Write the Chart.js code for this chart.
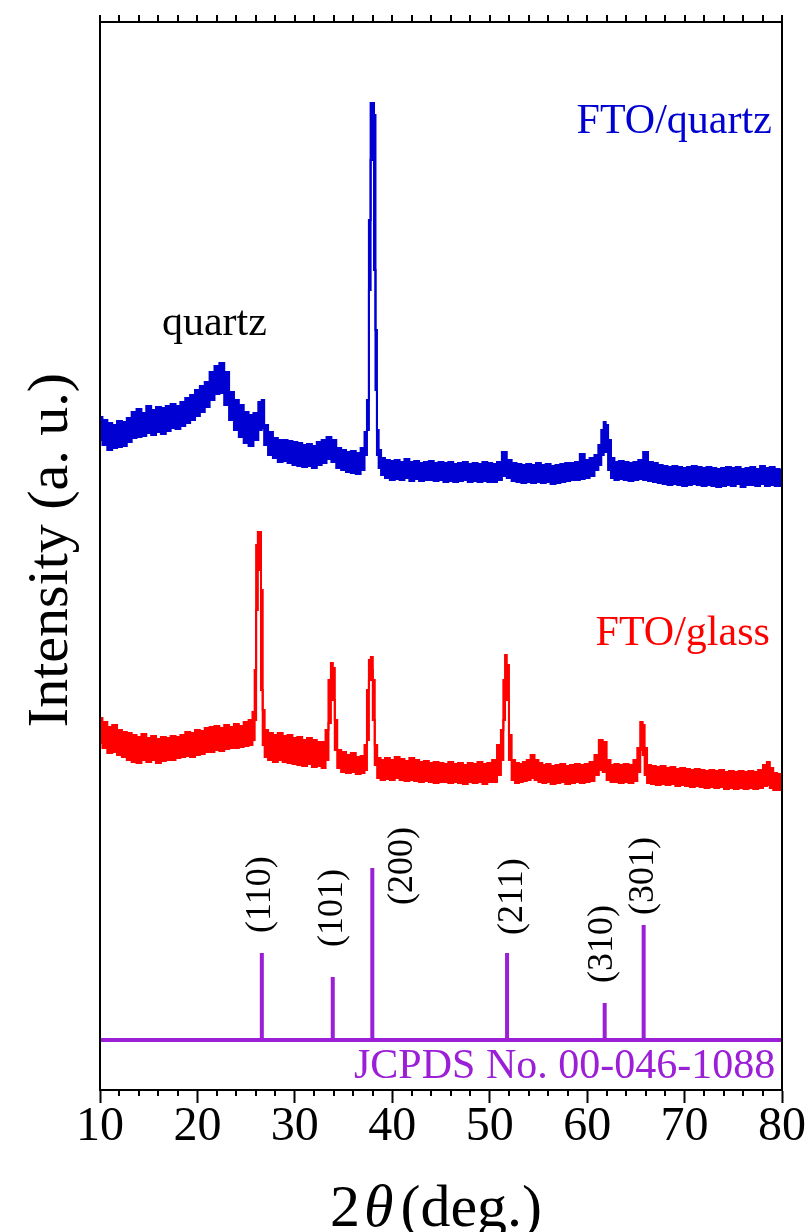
<!DOCTYPE html>
<html><head><meta charset="utf-8">
<script src="https://cdn.jsdelivr.net/npm/chart.js@4.4.1/dist/chart.umd.min.js"></script>
<style>html,body{margin:0;padding:0;background:#fff}#wrap{width:810px;height:1232px}</style>
</head><body><div id="wrap"><canvas id="c" width="810" height="1232"></canvas></div>
<script>
// ---- data (2θ in degrees, intensity in arbitrary units, offset stacked) ----
const quartzTheta = [10,10.5,11,11.5,12,12.5,13,13.5,14,14.5,15,15.5,16,16.5,17,17.5,18,18.5,19,19.5,
  20,20.5,21,21.5,22,22.5,23,23.5,24,24.5,25,25.5,26,26.5,26.7,27,27.5,28,28.5,29,29.5,
  30,30.5,31,31.5,32,32.5,33,33.5,34,34.5,35,35.5,36,36.5,37,37.3,37.5,37.7,37.85,38.05,38.2,38.35,38.5,38.7,
  39,39.5,40,40.5,41,41.5,42,42.5,43,43.5,44,44.5,45,45.5,46,46.5,47,47.5,48,48.5,49,49.5,
  50,50.5,51,51.5,52,52.5,53,53.5,54,54.5,55,55.5,56,56.5,57,57.5,58,58.5,59,59.5,
  60,60.5,61,61.3,61.6,61.8,62,62.3,62.6,63,63.5,64,64.5,65,65.5,66,66.5,67,67.5,68,68.5,69,69.5,
  70,70.5,71,71.5,72,72.5,73,73.5,74,74.5,75,75.5,76,76.5,77,77.5,78,78.5,79,79.5,80];
const quartzUpper = [673,670,667,665,669,668,672,678,681,677,684,680,683,682,684,686,684,688,692,695,
  700,704,708,718,724,727,718,698,690,685,678,675,677,688,690,665,658,652,650,650,649,
  648,647,645,646,644,648,650,653,650,642,640,638,639,637,642,658,690,870,987,987,975,760,660,640,
  632,630,629,630,628,631,628,629,627,628,629,627,628,627,628,626,627,628,626,627,626,628,
  627,626,628,638,630,627,626,625,626,625,627,625,626,624,625,626,627,627,628,636,
  630,632,635,645,660,668,665,650,632,628,629,628,627,628,630,638,628,627,625,624,623,624,623,
  622,623,624,623,622,623,622,621,622,623,622,623,621,622,623,621,624,622,623,621,620];
const quartzLower = [650,645,640,642,643,644,648,652,653,654,657,655,658,656,659,662,661,664,667,670,
  674,678,683,690,696,697,685,670,660,653,647,644,650,660,662,645,635,632,628,629,627,
  625,624,623,624,622,625,627,631,628,622,620,618,617,616,620,635,660,800,930,960,820,700,635,622,
  615,612,610,611,610,612,609,611,609,610,610,609,610,608,609,608,609,610,608,609,608,609,
  608,608,610,614,612,609,608,607,608,607,608,607,608,606,607,608,609,610,610,611,
  612,614,620,625,635,645,638,620,612,610,611,610,609,610,611,610,609,608,607,606,605,606,605,
  604,605,606,605,604,605,604,603,604,605,604,606,603,605,605,604,606,604,605,604,604];

const glassTheta = [10,10.5,11,11.5,12,12.5,13,13.5,14,14.5,15,15.5,16,16.5,17,17.5,18,18.5,19,19.5,
  20,20.5,21,21.5,22,22.5,23,23.5,24,24.5,25,25.5,25.8,25.95,26.1,26.3,26.45,26.6,26.8,27,27.5,28,28.5,29,29.5,
  30,30.5,31,31.5,32,32.5,33,33.3,33.6,33.8,34,34.2,34.5,35,35.5,36,36.5,37,37.3,37.5,37.7,37.9,38.1,38.3,38.6,
  39,39.5,40,40.5,41,41.5,42,42.5,43,43.5,44,44.5,45,45.5,46,46.5,47,47.5,48,48.5,49,49.5,
  50,50.5,51,51.3,51.5,51.65,51.85,52.1,52.4,52.8,53.2,53.6,54,54.4,54.8,55.2,55.6,56,56.5,57,57.5,58,58.5,59,59.5,
  60,60.5,61,61.4,61.8,62.2,62.6,63,63.5,64,64.5,65,65.3,65.6,65.8,66,66.3,66.8,67.3,67.8,68.3,68.8,69.3,69.8,
  70.3,70.8,71.3,71.8,72.3,72.8,73.3,73.8,74.3,74.8,75.3,75.8,76.3,76.8,77.3,77.8,78.3,78.6,78.9,79.3,79.7,80];
const glassUpper = [372,368,363,365,360,358,357,355,353,356,352,354,351,353,352,354,353,355,358,357,
  360,359,362,363,364,362,365,363,366,364,368,370,378,420,545,558,558,500,380,360,357,355,357,354,355,
  352,353,350,352,350,348,348,360,410,427,422,370,340,338,335,337,333,334,345,400,430,433,410,345,332,
  330,332,330,333,331,329,332,330,328,329,327,328,327,326,328,326,327,325,327,326,328,326,
  327,330,345,360,410,435,425,355,330,327,326,328,330,335,330,327,325,326,324,325,326,324,325,326,325,
  326,328,335,350,348,330,325,326,325,326,325,330,342,368,365,342,325,324,323,324,322,323,321,322,
  321,320,321,320,319,320,319,320,318,319,318,319,318,319,318,320,325,328,322,317,316,315];
const glassLower = [347,342,337,338,335,333,330,328,327,330,328,330,327,329,330,330,332,333,334,333,
  335,336,338,338,340,339,341,342,342,343,344,345,350,370,480,540,520,400,345,333,330,328,330,328,327,
  326,325,324,326,323,324,322,330,367,400,390,340,322,318,317,318,316,317,320,350,410,420,370,325,312,
  310,311,310,312,310,309,310,309,308,309,308,307,308,308,307,308,307,306,308,307,308,306,
  308,308,315,330,370,410,390,330,310,307,308,309,310,312,310,308,307,308,306,307,308,306,307,308,307,
  308,309,315,320,318,310,308,308,307,308,307,309,318,340,335,315,307,306,305,306,305,306,304,305,
  304,303,304,303,302,303,302,303,301,302,301,302,301,302,301,302,304,305,302,300,300,302];

// JCPDS No. 00-046-1088 (SnO2) reference lines
const refTheta = [26.61, 33.89, 37.95, 51.78, 61.80, 65.80];
const refHeight = [87, 63, 172, 87, 37, 115];
const refBase = 50;
const refLabels = ['(110)','(101)','(200)','(211)','(310)','(301)'];

const xMin = 10, xMax = 80, yMin = 0, yMax = 1068;

// ---- build datasets ----
const zip = (xs, ys) => xs.map((x, i) => ({x: x, y: ys[i]}));
const sticks = [];
refTheta.forEach((t, i) => {
  sticks.push({x: t, y: refBase});
  sticks.push({x: t, y: refBase + refHeight[i]});
  sticks.push({x: t, y: null});
});

const BLUE = '#0000D2', RED = '#FF0000', PURPLE = '#9B1FD6';
const SERIF = "'Liberation Serif', 'Times New Roman', serif";

const decor = {
  id: 'decor',
  afterDraw(chart) {
    const ctx = chart.ctx, a = chart.chartArea;
    const xs = chart.scales.x, ys = chart.scales.y;
    ctx.save();
    ctx.strokeStyle = '#000';
    ctx.lineWidth = 2;
    ctx.beginPath();
    ctx.moveTo(a.left, a.bottom); ctx.lineTo(a.left, a.top);
    ctx.lineTo(a.right, a.top); ctx.lineTo(a.right, a.bottom);
    ctx.stroke();
    // top ticks every 2 deg, bottom minor ticks
    for (let v = xMin; v <= xMax; v += 2) {
      const p = Math.round(xs.getPixelForValue(v));
      ctx.beginPath();
      ctx.moveTo(p, a.top); ctx.lineTo(p, a.top - 7);
      if (v % 10 !== 0) { ctx.moveTo(p, a.bottom); ctx.lineTo(p, a.bottom + 6); }
      ctx.stroke();
    }
    // annotations
    ctx.font = '42px ' + SERIF;
    ctx.textBaseline = 'alphabetic';
    ctx.textAlign = 'right';
    ctx.fillStyle = BLUE;
    ctx.fillText('FTO/quartz', xs.getPixelForValue(78.95), ys.getPixelForValue(957));
    ctx.fillStyle = RED;
    ctx.fillText('FTO/glass', xs.getPixelForValue(78.75), ys.getPixelForValue(445));
    ctx.fillStyle = PURPLE;
    ctx.fillText('JCPDS No. 00-046-1088', xs.getPixelForValue(79.3), ys.getPixelForValue(12));
    ctx.textAlign = 'left';
    ctx.fillStyle = '#000';
    ctx.fillText('quartz', xs.getPixelForValue(16.36), ys.getPixelForValue(755));
    // hkl labels
    const dx = [-1, 0, 30, 5, -2, 0];
    const gap = [20, 30, -37, 18, 20, 10];
    ctx.font = '36px ' + SERIF;
    ctx.textBaseline = 'middle';
    refLabels.forEach((lab, i) => {
      const px = xs.getPixelForValue(refTheta[i]) + dx[i];
      const py = ys.getPixelForValue(refBase + refHeight[i]) - gap[i];
      ctx.save();
      ctx.translate(px, py);
      ctx.rotate(-Math.PI / 2);
      ctx.fillText(lab, 0, 0);
      ctx.restore();
    });
    // y title
    ctx.save();
    ctx.font = '58px ' + SERIF;
    ctx.textAlign = 'center';
    ctx.textBaseline = 'alphabetic';
    ctx.translate(67, 550);
    ctx.rotate(-Math.PI / 2);
    ctx.fillText('Intensity (a. u.)', 0, 0);
    ctx.restore();
    // x title: 2θ (deg.)
    ctx.textAlign = 'left';
    ctx.textBaseline = 'alphabetic';
    let x0 = 330; const yb = 1226;
    ctx.font = '60px ' + SERIF;
    ctx.fillText('2', x0, yb);
    x0 += ctx.measureText('2').width + 4;
    ctx.font = 'italic 60px ' + SERIF;
    ctx.fillText('\u03B8', x0, yb);
    x0 += ctx.measureText('\u03B8').width + 7;
    ctx.font = '60px ' + SERIF;
    ctx.fillText('(deg.)', x0, yb);
    ctx.restore();
  }
};

const band = (color, fill) => ({borderColor: color, backgroundColor: color, borderWidth: 2, fill: fill,
  pointRadius: 0, tension: 0, stepped: 'middle'});

new Chart(document.getElementById('c'), {
  type: 'line',
  data: {
    datasets: [
      Object.assign({label: 'FTO/quartz', data: zip(quartzTheta, quartzUpper)}, band(BLUE, '+1')),
      Object.assign({label: 'FTO/quartz low', data: zip(quartzTheta, quartzLower)}, band(BLUE, false)),
      Object.assign({label: 'FTO/glass', data: zip(glassTheta, glassUpper)}, band(RED, '+1')),
      Object.assign({label: 'FTO/glass low', data: zip(glassTheta, glassLower)}, band(RED, false)),
      {label: 'JCPDS', data: sticks, borderColor: PURPLE, borderWidth: 4, fill: false, pointRadius: 0, spanGaps: false},
      {label: 'JCPDS base', data: [{x: xMin, y: refBase}, {x: xMax, y: refBase}], borderColor: PURPLE, borderWidth: 4, fill: false, pointRadius: 0}
    ]
  },
  options: {
    responsive: false,
    animation: false,
    devicePixelRatio: 1,
    layout: {padding: {left: 100, right: 28, top: 22, bottom: 0}},
    plugins: {legend: {display: false}, tooltip: {enabled: false}},
    scales: {
      x: {
        type: 'linear', position: 'bottom', min: xMin, max: xMax,
        ticks: {stepSize: 10, autoSkip: false, maxRotation: 0, color: '#000', padding: 0,
                font: {family: SERIF, size: 48, lineHeight: 1}},
        grid: {display: true, drawOnChartArea: false, drawTicks: true, tickLength: 13, tickWidth: 2, tickColor: '#000'},
        border: {display: true, color: '#000', width: 2},
        afterFit: s => { s.height = 142; }
      },
      y: {display: false, min: yMin, max: yMax}
    }
  },
  plugins: [decor]
});
</script>
</body></html>
